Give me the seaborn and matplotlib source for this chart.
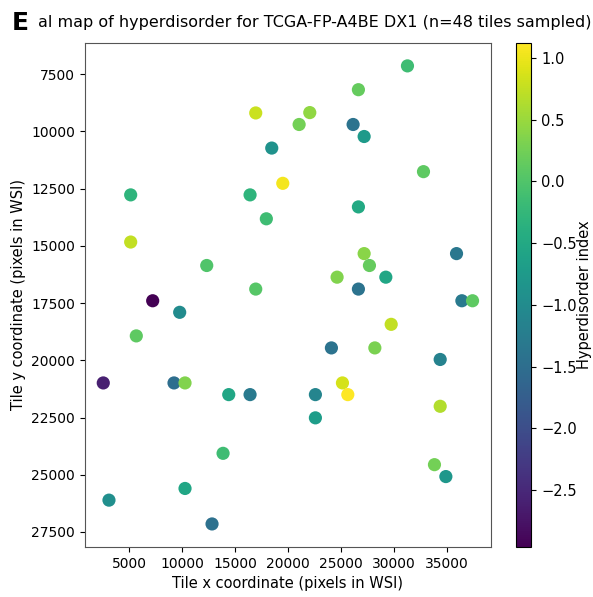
import matplotlib
matplotlib.use('Agg')
import matplotlib.pyplot as plt
import seaborn as sns
import pandas as pd
from matplotlib.colors import Normalize
from matplotlib.cm import ScalarMappable

# tile coordinates (pixels in WSI) and hyperdisorder index
tile_x = [16950, 18460, 19500, 5160, 16415, 17950, 5160, 12330, 16950,
          31255, 26630, 22045, 21040, 26130, 27170, 32765, 26630, 27170,
          27670, 24620, 29215, 35880, 26630,
          36385, 37390, 29720, 24085, 28180, 34340, 25125, 25630, 22575,
          22575, 34340, 33800, 34875,
          7235, 9780, 5690, 2575, 9245, 10283, 14405, 16415, 13870, 10283,
          3113, 12830]
tile_y = [9196, 10730, 12270, 12775, 12775, 13820, 14835, 15860, 16890,
          7140, 8180, 9180, 9700, 9700, 10225, 11760, 13300, 15340,
          15860, 16370, 16370, 15340, 16890,
          17400, 17400, 18430, 19460, 19460, 19965, 20990, 21500, 21500,
          22515, 22010, 24560, 25080,
          17400, 17905, 18935, 20990, 20990, 20990, 21500, 21500, 24065, 25600,
          26110, 27150]
hyperdisorder = [0.8, -0.9, 1.05, -0.3, -0.3, -0.15, 0.75, 0.0, 0.05,
                 -0.15, 0.15, 0.45, 0.25, -1.4, -0.75, 0.1, -0.5, 0.4,
                 0.15, 0.35, -0.55, -1.35, -1.4,
                 -1.3, 0.1, 0.75, -1.4, 0.3, -1.15, 0.85, 1.12, -1.1,
                 -0.7, 0.65, 0.25, -0.8,
                 -2.96, -1.0, 0.1, -2.6, -1.5, 0.35, -0.55, -1.3, -0.15, -0.55,
                 -0.95, -1.45]

df = pd.DataFrame({'x': tile_x, 'y': tile_y, 'h': hyperdisorder})
vmin, vmax = min(hyperdisorder), max(hyperdisorder)

fig = plt.figure(figsize=(5.93, 5.97), dpi=100)
ax = fig.add_axes([0.143, 0.084, 0.685, 0.844])
cax = fig.add_axes([0.870, 0.084, 0.026, 0.844])

sns.scatterplot(data=df, x='x', y='y', hue='h', palette='viridis',
                hue_norm=(vmin, vmax), s=90, linewidth=0, legend=False, ax=ax)
ax.invert_yaxis()

for sp in ax.spines.values():
    sp.set_color('#555555')

ax.set_xlabel('Tile x coordinate (pixels in WSI)', fontsize=10.5)
ax.set_ylabel('Tile y coordinate (pixels in WSI)', fontsize=10.5)
ax.tick_params(labelsize=10)

sm = ScalarMappable(norm=Normalize(vmin, vmax), cmap='viridis')
cb = fig.colorbar(sm, cax=cax)
cb.set_label('Hyperdisorder index', fontsize=10.5, labelpad=0)
cb.ax.tick_params(labelsize=10.5)

fig.text(0.064, 0.962, 'al map of hyperdisorder for TCGA-FP-A4BE DX1 (n=48 tiles sampled)',
         fontsize=11.5, ha='left', va='center')
fig.text(0.02, 0.962, 'E', fontsize=18, fontweight='bold', ha='left', va='center')

fig.savefig('out.png', dpi=100)
